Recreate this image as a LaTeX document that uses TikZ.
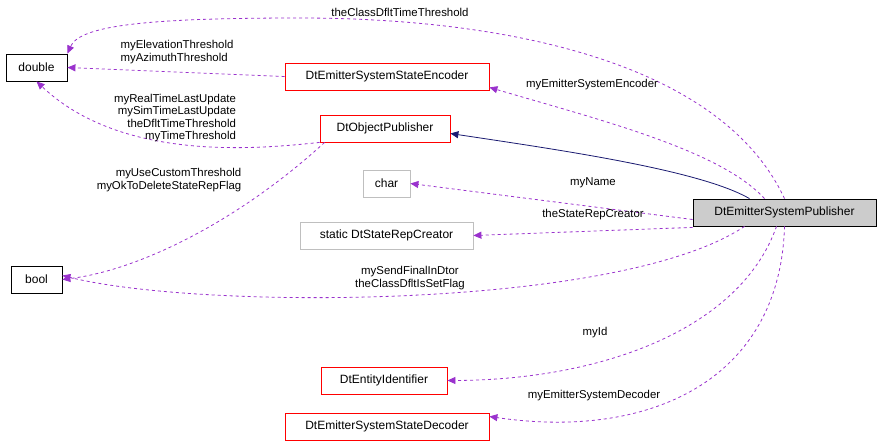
\documentclass[tikz,border=0pt]{standalone}
\usepackage{fontspec}
\setmainfont{Liberation Sans}
\usetikzlibrary{arrows.meta}
\definecolor{dep}{HTML}{9A32CD}
\definecolor{inh}{HTML}{191970}
\begin{document}
\begin{tikzpicture}[x=1pt,y=-1pt,
  every node/.style={font=\fontsize{11.4}{12.5}\selectfont},
  box/.style={draw=#1,fill=white,minimum height=27pt,inner sep=0pt,line width=0.8pt,font=\fontsize{12}{13}\selectfont},
  box/.default=black,
  dep/.style={draw=dep,dashed,line width=0.8pt,-{Triangle[length=8pt,width=7pt,fill=dep]}},
  inh/.style={draw=inh,line width=0.8pt,-{Triangle[length=8pt,width=7pt,fill=inh]}},
  lab/.style={align=center,inner sep=1pt}]
\useasboundingbox (0,0) rectangle (880,447);
\node[box,minimum width=61pt] (double) at (36.5,67.5) {double};
\node[box,minimum width=51pt] (bool) at (36.5,279.5) {bool};
\node[box=red,minimum width=204pt] (enc) at (387,76.5) {DtEmitterSystemStateEncoder};
\node[box=red,minimum width=130pt] (obj) at (385,128.5) {DtObjectPublisher};
\node[box=lightgray,minimum width=47pt] (char) at (386.5,183.5) {char};
\node[box=lightgray,minimum width=173pt] (rep) at (386.5,235.5) {static DtStateRepCreator};
\node[box,fill=lightgray!80,minimum width=183pt] (pub) at (784.5,212.5) {DtEmitterSystemPublisher};
\node[box=red,minimum width=126pt] (eid) at (384,380.5) {DtEntityIdentifier};
\node[box=red,minimum width=204pt] (dec) at (387,426.5) {DtEmitterSystemStateDecoder};

\draw[dep] (pub.north) .. controls (720,60) and (500,18) .. (300,18) .. controls (150,18) and (80,25) .. (double.north east);
\node[lab] at (400,12) {theClassDfltTimeThreshold};
\draw[dep] (enc.west) -- (double.east);
\node[lab,align=left] at (177,52) {myElevationThreshold\\myAzimuthThreshold};
\draw[dep] (obj.south west) .. controls (250,150) and (120,160) .. (double.south);
\node[lab,align=right] at (175,118) {myRealTimeLastUpdate\\mySimTimeLastUpdate\\theDfltTimeThreshold\\myTimeThreshold};
\draw[dep] ([xshift=5pt]obj.south west) .. controls (240,220) and (140,270) .. (bool.east);
\node[lab,align=right] at (169,180) {myUseCustomThreshold\\myOkToDeleteStateRepFlag};
\draw[dep] ([xshift=-20pt]pub.north) .. controls (720,150) and (600,120) .. ([yshift=3pt]enc.south east);
\node[lab] at (592,85) {myEmitterSystemEncoder};
\draw[inh] ([xshift=-35pt]pub.north) .. controls (700,170) and (560,150) .. ([yshift=-5pt]obj.east);
\draw[dep] ([yshift=-7pt]pub.west) -- (char.east);
\node[lab] at (593,183) {myName};
\draw[dep] ([yshift=-1pt]pub.south west) -- (rep.east);
\node[lab] at (593,215) {theStateRepCreator};
\draw[dep] ([xshift=-40pt]pub.south) .. controls (620,310) and (200,310) .. ([yshift=4pt]bool.east);
\node[lab] at (410,278) {mySendFinalInDtor\\theClassDfltIsSetFlag};
\draw[dep] ([xshift=-8pt]pub.south) .. controls (740,330) and (600,380) .. (eid.east);
\node[lab] at (595,333) {myId};
\draw[dep] (pub.south) .. controls (780,380) and (650,440) .. ([yshift=10pt]dec.east);
\node[lab] at (594,396) {myEmitterSystemDecoder};
\end{tikzpicture}
\end{document}
